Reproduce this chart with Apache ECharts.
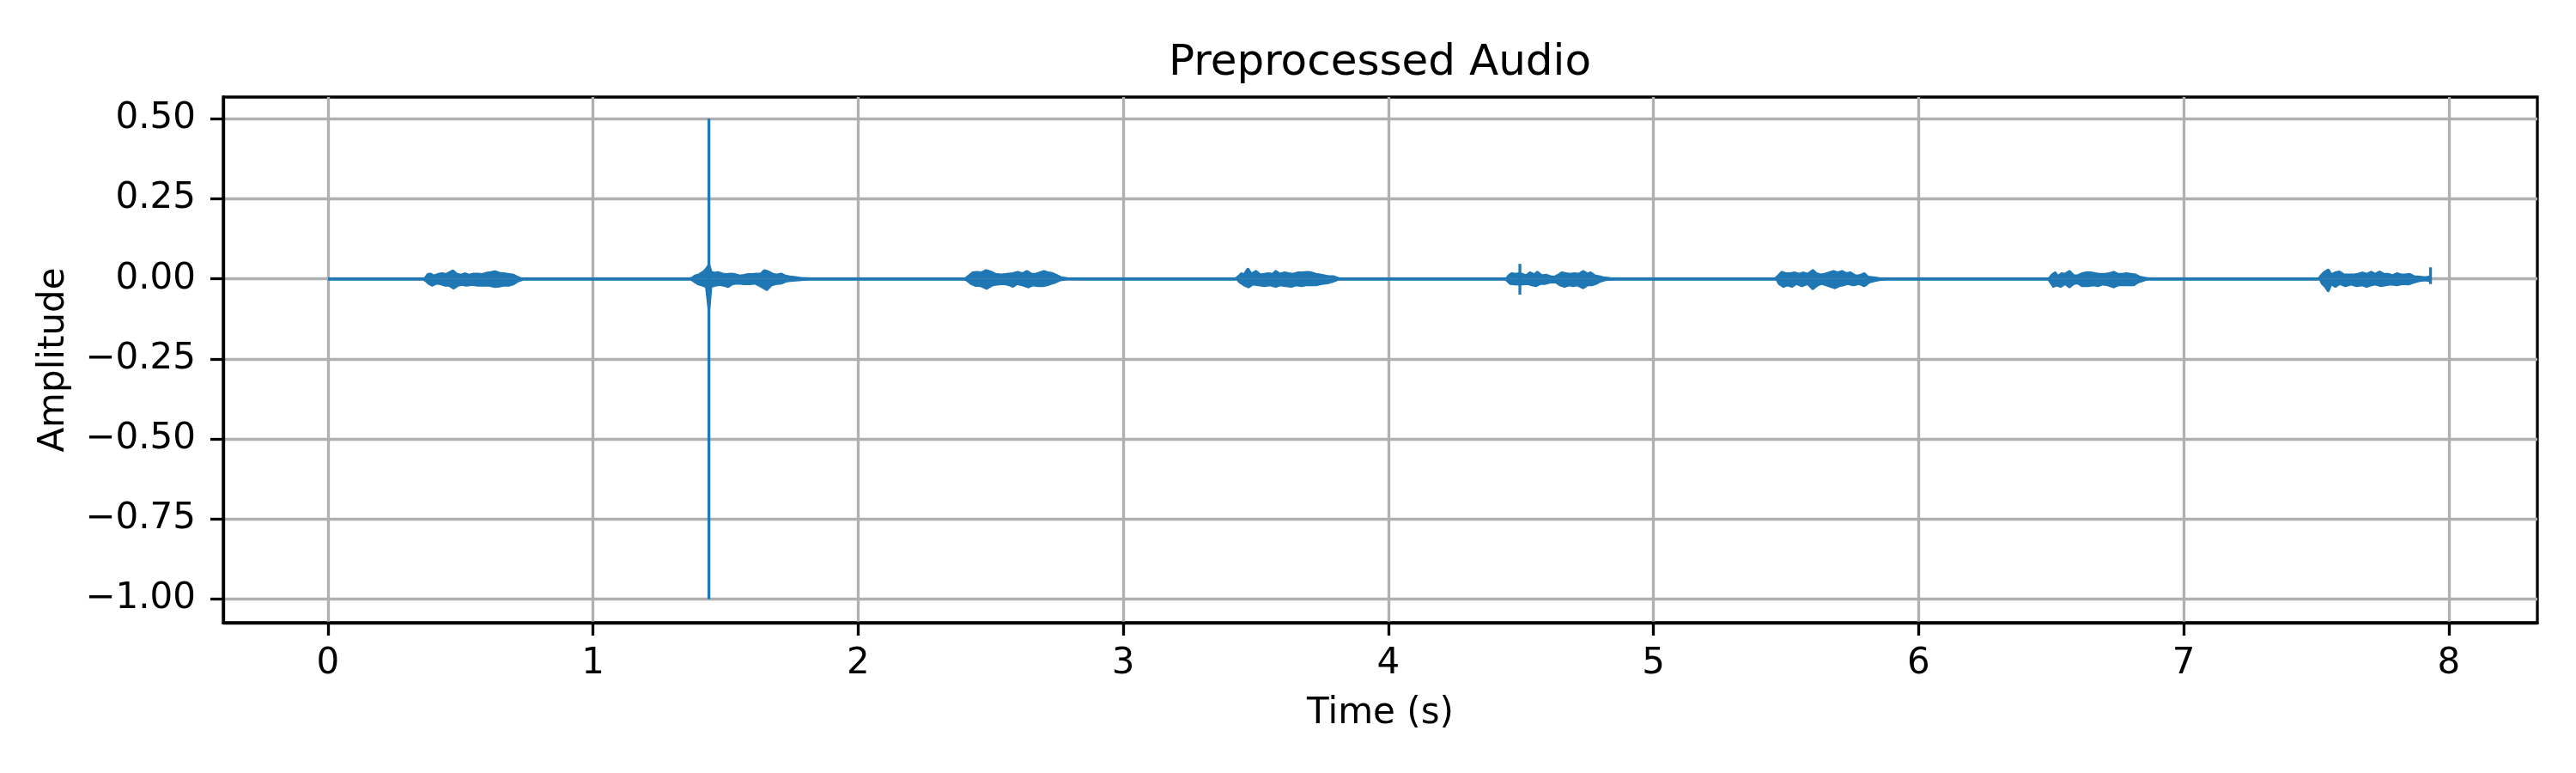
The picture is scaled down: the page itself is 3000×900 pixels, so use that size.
<!DOCTYPE html>
<html>
<head>
<meta charset="utf-8">
<title>Preprocessed Audio</title>
<script src="https://cdn.jsdelivr.net/npm/echarts@6/dist/echarts.min.js"></script>
<style>
  html, body { margin: 0; padding: 0; background: #fff; }
  #chart { width: 3000px; height: 900px; }
</style>
</head>
<body>
<div id="chart"></div>
<script>
// tick labels
var xTicks = [0, 1, 2, 3, 4, 5, 6, 7, 8];
var yTicks = [-1.0, -0.75, -0.5, -0.25, 0.0, 0.25, 0.5];

// upper envelope of the waveform [time s, amplitude]
var upperEnvelope = [
  [0, 0], [0.355, 0],
  [0.366, 0], [0.377, 0.013], [0.387, 0.0148], [0.398, 0.0085], [0.414, 0.013], [0.430, 0.0157], [0.447, 0.013],
  [0.457, 0.0184], [0.471, 0.0246], [0.484, 0.0148], [0.501, 0.011], [0.517, 0.0157], [0.533, 0.011], [0.549, 0.0148],
  [0.565, 0.0148], [0.582, 0.013], [0.598, 0.0175], [0.614, 0.0193], [0.630, 0.022], [0.646, 0.0175], [0.662, 0.0157],
  [0.684, 0.013], [0.700, 0.011], [0.711, 0.006], [0.727, 0.0004], [0.749, 0],
  [1.365, 0],
  [1.374, 0.002], [1.385, 0.0085], [1.401, 0.013], [1.418, 0.022], [1.428, 0.031], [1.437, 0.042], [1.444, 0.022],
  [1.455, 0.0175], [1.471, 0.0193], [1.488, 0.0148], [1.504, 0.013], [1.520, 0.0148], [1.536, 0.013], [1.552, 0.0085],
  [1.569, 0.0103], [1.585, 0.013], [1.601, 0.013], [1.617, 0.0148], [1.633, 0.0148], [1.646, 0.0255], [1.660, 0.022],
  [1.676, 0.0148], [1.693, 0.011], [1.709, 0.0148], [1.725, 0.0085], [1.741, 0.006], [1.763, 0.004], [1.784, 0.0013],
  [1.817, 0],
  [2.395, 0],
  [2.405, 0], [2.415, 0.0067], [2.432, 0.0184], [2.448, 0.0202], [2.464, 0.0184], [2.483, 0.0255], [2.502, 0.0202],
  [2.518, 0.0139], [2.539, 0.0121], [2.561, 0.0139], [2.583, 0.0157], [2.602, 0.0202], [2.620, 0.0157], [2.637, 0.0228],
  [2.653, 0.0139], [2.669, 0.0139], [2.685, 0.0184], [2.701, 0.0228], [2.717, 0.0184], [2.734, 0.0157], [2.750, 0.0094],
  [2.766, 0.003], [2.788, 0.0004], [2.841, 0],
  [3.425, 0],
  [3.435, 0.0067], [3.446, 0.0157], [3.456, 0.0121], [3.470, 0.030], [3.483, 0.0139], [3.500, 0.0228], [3.516, 0.0121],
  [3.532, 0.0139], [3.548, 0.0157], [3.564, 0.0139], [3.575, 0.0228], [3.591, 0.0139], [3.607, 0.0184], [3.624, 0.0157],
  [3.640, 0.0139], [3.661, 0.0184], [3.678, 0.0184], [3.694, 0.0202], [3.710, 0.0184], [3.726, 0.0139], [3.742, 0.0121],
  [3.758, 0.0094], [3.775, 0.0067], [3.791, 0.0067], [3.812, 0.0004], [3.855, 0],
  [4.440, 0],
  [4.447, 0.0004], [4.454, 0.0094], [4.465, 0.0157], [4.481, 0.0139], [4.494, 0.016], [4.503, 0.0139], [4.519, 0.0094],
  [4.535, 0.0184], [4.551, 0.0121], [4.562, 0.0202], [4.578, 0.0094], [4.594, 0.0112], [4.611, 0.0067], [4.627, 0.0049],
  [4.643, 0.0121], [4.654, 0.0184], [4.670, 0.0157], [4.686, 0.0139], [4.702, 0.0157], [4.718, 0.0139], [4.735, 0.0228],
  [4.751, 0.0139], [4.762, 0.0184], [4.778, 0.0094], [4.794, 0.0067], [4.810, 0.003], [4.837, 0.0004], [4.880, 0],
  [5.460, 0],
  [5.468, 0.0067], [5.484, 0.0202], [5.501, 0.0157], [5.517, 0.0157], [5.533, 0.0184], [5.549, 0.0139], [5.565, 0.0184],
  [5.582, 0.0139], [5.601, 0.0255], [5.614, 0.0157], [5.630, 0.0121], [5.646, 0.0139], [5.662, 0.0184], [5.679, 0.0228],
  [5.695, 0.0184], [5.711, 0.0228], [5.727, 0.0157], [5.743, 0.0184], [5.760, 0.0094], [5.776, 0.0094], [5.795, 0.0157],
  [5.808, 0.0049], [5.830, 0.003], [5.851, 0.0004], [5.884, 0],
  [6.485, 0],
  [6.493, 0.0004], [6.504, 0.0121], [6.515, 0.0184], [6.525, 0.0067], [6.539, 0.0157], [6.552, 0.0139], [6.569, 0.0228],
  [6.585, 0.0094], [6.601, 0.0094], [6.617, 0.0157], [6.633, 0.0184], [6.649, 0.0184], [6.666, 0.0157], [6.682, 0.0139],
  [6.703, 0.0139], [6.720, 0.0157], [6.736, 0.0202], [6.752, 0.0139], [6.768, 0.0139], [6.784, 0.0157], [6.800, 0.0139],
  [6.817, 0.0121], [6.833, 0.0049], [6.865, 0],
  [7.510, 0],
  [7.518, 0.0094], [7.529, 0.0184], [7.545, 0.0273], [7.556, 0.0121], [7.572, 0.0184], [7.588, 0.021], [7.604, 0.0121],
  [7.620, 0.0121], [7.642, 0.0121], [7.658, 0.0139], [7.674, 0.0184], [7.690, 0.0139], [7.707, 0.0202], [7.723, 0.0139],
  [7.739, 0.021], [7.755, 0.0139], [7.771, 0.0139], [7.788, 0.0094], [7.804, 0.0157], [7.820, 0.0121], [7.836, 0.0121],
  [7.852, 0.0139], [7.868, 0.0067], [7.890, 0.0049], [7.912, 0.003], [7.925, 0.0049], [7.931, 0.0049]
];

// lower envelope of the waveform [time s, amplitude]
var lowerEnvelope = [
  [0, 0], [0.360, 0],
  [0.371, -0.006], [0.382, -0.0148], [0.393, -0.0193], [0.409, -0.013], [0.425, -0.0148], [0.441, -0.0193], [0.457, -0.0193],
  [0.474, -0.0282], [0.490, -0.0193], [0.506, -0.0166], [0.522, -0.0193], [0.544, -0.0166], [0.565, -0.0193], [0.587, -0.0193],
  [0.608, -0.0193], [0.630, -0.0237], [0.646, -0.022], [0.662, -0.0193], [0.684, -0.0193], [0.700, -0.0148], [0.716, -0.006],
  [0.738, 0], [0.749, 0],
  [1.370, 0],
  [1.380, -0.006], [1.396, -0.0148], [1.412, -0.0193], [1.428, -0.0237], [1.437, -0.090], [1.444, -0.0237], [1.461, -0.0193],
  [1.477, -0.0166], [1.493, -0.0193], [1.509, -0.0237], [1.525, -0.0148], [1.547, -0.013], [1.569, -0.0148], [1.590, -0.0148],
  [1.612, -0.013], [1.633, -0.022], [1.655, -0.0327], [1.671, -0.0193], [1.687, -0.0148], [1.709, -0.013], [1.730, -0.006],
  [1.752, -0.004], [1.784, -0.002], [1.817, 0],
  [2.400, 0],
  [2.410, -0.003], [2.426, -0.0139], [2.442, -0.0202], [2.464, -0.021], [2.485, -0.029], [2.507, -0.0184], [2.529, -0.0157],
  [2.550, -0.0139], [2.572, -0.0184], [2.583, -0.0228], [2.599, -0.0139], [2.620, -0.0184], [2.642, -0.0246], [2.658, -0.0184],
  [2.680, -0.021], [2.696, -0.021], [2.712, -0.0184], [2.728, -0.0139], [2.744, -0.0094], [2.761, -0.003], [2.788, 0],
  [2.841, 0],
  [3.430, 0],
  [3.440, -0.0094], [3.456, -0.0184], [3.473, -0.0246], [3.489, -0.0157], [3.510, -0.0184], [3.532, -0.021], [3.553, -0.0184],
  [3.575, -0.0228], [3.591, -0.0184], [3.613, -0.021], [3.634, -0.0228], [3.651, -0.0184], [3.672, -0.021], [3.688, -0.0184],
  [3.710, -0.0184], [3.726, -0.0184], [3.748, -0.0139], [3.769, -0.0121], [3.791, -0.0067], [3.812, -0.0004], [3.855, 0],
  [4.442, 0],
  [4.449, -0.0049], [4.460, -0.0139], [4.476, -0.0157], [4.494, -0.016], [4.508, -0.0157], [4.524, -0.0139], [4.541, -0.0184],
  [4.557, -0.021], [4.573, -0.0139], [4.589, -0.0139], [4.611, -0.0094], [4.632, -0.0094], [4.648, -0.0184], [4.665, -0.0228],
  [4.681, -0.0184], [4.697, -0.021], [4.713, -0.0184], [4.735, -0.0273], [4.751, -0.0184], [4.767, -0.0184], [4.783, -0.0139],
  [4.799, -0.0067], [4.821, -0.0013], [4.880, 0],
  [5.465, 0],
  [5.474, -0.0139], [5.490, -0.0228], [5.506, -0.0184], [5.522, -0.0228], [5.538, -0.0139], [5.560, -0.021], [5.582, -0.0139],
  [5.601, -0.030], [5.619, -0.0184], [5.635, -0.0139], [5.652, -0.0184], [5.668, -0.0228], [5.684, -0.0273], [5.700, -0.021],
  [5.716, -0.0184], [5.733, -0.0139], [5.754, -0.0184], [5.776, -0.0139], [5.795, -0.021], [5.813, -0.0094], [5.835, -0.0049],
  [5.851, -0.002], [5.884, 0],
  [6.490, 0],
  [6.498, -0.0094], [6.509, -0.0228], [6.520, -0.0184], [6.536, -0.0228], [6.552, -0.0139], [6.569, -0.0246], [6.585, -0.0139],
  [6.601, -0.0121], [6.617, -0.021], [6.639, -0.021], [6.660, -0.0184], [6.676, -0.021], [6.693, -0.0157], [6.714, -0.0184],
  [6.736, -0.0246], [6.752, -0.0184], [6.774, -0.0184], [6.790, -0.0184], [6.811, -0.0184], [6.827, -0.0094], [6.854, -0.002],
  [6.865, 0],
  [7.515, 0],
  [7.523, -0.0139], [7.534, -0.0228], [7.545, -0.0363], [7.556, -0.0139], [7.572, -0.0228], [7.588, -0.0139], [7.610, -0.021],
  [7.631, -0.0157], [7.653, -0.021], [7.674, -0.0184], [7.690, -0.0228], [7.707, -0.0184], [7.723, -0.0157], [7.744, -0.021],
  [7.761, -0.0184], [7.782, -0.0157], [7.804, -0.0184], [7.825, -0.0139], [7.847, -0.0157], [7.868, -0.0094], [7.890, -0.0049],
  [7.912, -0.003], [7.925, -0.0049], [7.931, -0.005]
];

// single-sample spikes
var spikeTimes = [1.437, 4.496, 7.931];
var spikeTops = [0.5, 0.047, 0.036];
var spikeBottoms = [-1.0, -0.049, -0.016];

var lineBlue = '#1f77b4';
var font = 'DejaVu Sans';

var chart = echarts.init(document.getElementById('chart'), null, { renderer: 'canvas' });

function fmtTick(v) {
  var s = Math.abs(v).toFixed(2);
  return v < 0 ? '\u2212' + s : s;
}

var series = [
  {
    name: 'upper',
    type: 'line',
    data: upperEnvelope,
    showSymbol: false,
    symbol: 'none',
    lineStyle: { color: lineBlue, width: 3.6, join: 'round' },
    areaStyle: { color: lineBlue, opacity: 1, origin: 0 },
    z: 3
  },
  {
    name: 'lower',
    type: 'line',
    data: lowerEnvelope,
    showSymbol: false,
    symbol: 'none',
    lineStyle: { color: lineBlue, width: 3.6, join: 'round' },
    areaStyle: { color: lineBlue, opacity: 1, origin: 0 },
    z: 3
  }
];

// each spike is a vertical segment from its top to its bottom
spikeTimes.forEach(function (t, i) {
  series.push({
    name: 'spike' + i,
    type: 'line',
    data: [[t, spikeTops[i]], [t, spikeBottoms[i]]],
    showSymbol: false,
    symbol: 'none',
    lineStyle: { color: lineBlue, width: 3.3 },
    z: 4
  });
});

var option = {
  animation: false,
  backgroundColor: '#fff',
  title: {
    text: 'Preprocessed Audio',
    left: 1607,
    top: 49,
    padding: 0,
    textAlign: 'center',
    textStyle: { fontFamily: font, fontSize: 50, fontWeight: 'normal', color: '#000' }
  },
  grid: {
    left: 260,
    right: 45,
    top: 113,
    bottom: 175,
    show: true,
    borderColor: '#000',
    borderWidth: 3.3,
    backgroundColor: 'transparent'
  },
  xAxis: {
    type: 'value',
    min: -0.395,
    max: 8.334,
    name: 'Time (s)',
    nameLocation: 'middle',
    nameGap: 85,
    nameTextStyle: { fontFamily: font, fontSize: 42, color: '#000' },
    axisLine: { show: true, onZero: false, lineStyle: { color: '#000', width: 3.3 } },
    axisTick: { show: true, length: 15, customValues: xTicks, lineStyle: { color: '#000', width: 3.3 } },
    axisLabel: { customValues: xTicks, margin: 27, fontFamily: font, fontSize: 42, color: '#000' },
    splitLine: { show: true, lineStyle: { color: '#b0b0b0', width: 3.3 } }
  },
  yAxis: {
    type: 'value',
    min: -1.074,
    max: 0.568,
    name: 'Amplitude',
    nameLocation: 'middle',
    nameRotate: 90,
    nameGap: 176,
    nameTextStyle: { fontFamily: font, fontSize: 42, color: '#000' },
    axisLine: { show: true, onZero: false, lineStyle: { color: '#000', width: 3.3 } },
    axisTick: { show: true, length: 15, customValues: yTicks, lineStyle: { color: '#000', width: 3.3 } },
    axisLabel: { customValues: yTicks, margin: 32, fontFamily: font, fontSize: 42, color: '#000', formatter: fmtTick },
    splitLine: { show: true, lineStyle: { color: '#b0b0b0', width: 3.3 } }
  },
  series: series
};

chart.setOption(option);

window.addEventListener('resize', function () {
  chart.resize();
});
</script>
</body>
</html>
